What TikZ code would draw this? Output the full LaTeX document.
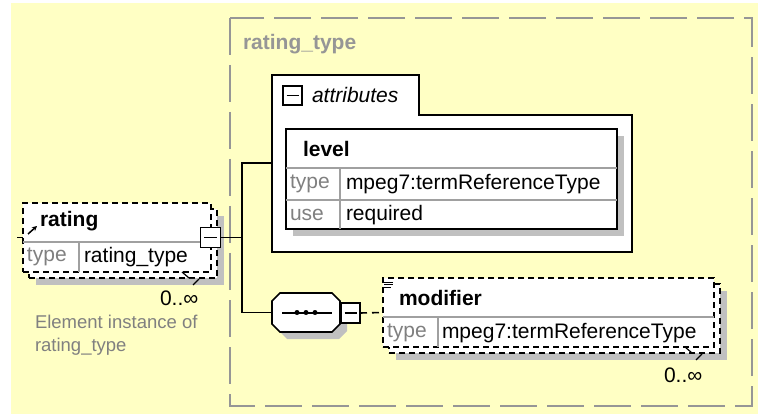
\documentclass[tikz,border=0pt]{standalone}
\usepackage{fontspec}
\setmainfont{Liberation Sans}
\usetikzlibrary{positioning,shadows,arrows.meta}

\definecolor{bgyellow}{RGB}{255,255,196}
\definecolor{framegray}{RGB}{150,150,150}
\definecolor{shadegray}{RGB}{192,192,192}
\definecolor{textgray}{RGB}{128,128,128}
\definecolor{rulegray}{RGB}{160,160,160}

\begin{document}
\begin{tikzpicture}[x=1pt, y=-1pt,
  every node/.style={inner sep=0pt, outer sep=0pt},
  txt/.style={anchor=west, font=\fontsize{21}{25}\selectfont},
  boldtxt/.style={txt, font=\fontsize{21}{25}\selectfont\bfseries},
  graytxt/.style={txt, text=textgray},
  grayshadow/.style={drop shadow={shadow xshift=7pt, shadow yshift=-7pt, fill=shadegray, draw=none, opacity=1}},
  elem/.style={draw=black, line width=1.6pt, dash pattern=on 6pt off 4pt, fill=white, minimum width=188pt, minimum height=69pt},
  minusbox/.style={draw=black, line width=1.6pt, fill=white, minimum width=20pt, minimum height=20pt,
    path picture={\draw[line width=1.6pt] ([xshift=3.5pt]path picture bounding box.west) -- ([xshift=-3.5pt]path picture bounding box.east);}},
  rule/.style={rulegray, line width=1.2pt},
  conn/.style={line width=1.6pt}]

  % background and type frame
  \fill[white] (0,0) rectangle (758,414);
  \fill[bgyellow] (11,3) rectangle (758,414);
  \draw[framegray, line width=2pt, dash pattern=on 37pt off 10pt] (230,18) rectangle (752,406);
  \node[boldtxt, text=framegray] (typeName) at (243,44) {rating\_type};

  % rating element
  \node[elem, grayshadow] (ratingBack) at (123,243.5) {};
  \node[elem] (rating) at (117,237.5) {};
  \draw[rule] (23,242) -- (211,242);
  \draw[rule] (79,242) -- (79,272);
  \node[boldtxt] (ratingName) at (40,221) {rating};
  \node[graytxt] (ratingTypeKey) at (27,257) {type};
  \node[txt] (ratingTypeVal) at (84,257) {rating\_type};
  \draw[-{Stealth[length=5pt,width=5pt]}, line width=1.5pt] (28,234) -- (37,226);
  \draw[line width=1.2pt] (182,272) -- (189,278);
  \fill[shadegray] (188,279) -- (199,279) -- (193,285) -- cycle;
  \draw[line width=1.2pt] (193,285) -- (199,279);
  \node[txt] (ratingOcc) at (160,298) {0..∞};
  \node[graytxt, font=\fontsize{18.5}{23}\selectfont, align=left] (ratingNote) at (35,335.5) {Element instance of\\rating\_type};
  \node[minusbox] (ratingMinus) at (210.5,237.5) {};
  \coordinate (ratingStub) at (17,237.5);
  \draw[conn] (ratingStub) -- (rating.west);

  % attributes group
  \draw[line width=1.6pt, fill=white] (272,75) -| (419,115) -| (632,252) -- (272,252) -- cycle;
  \node[minusbox, minimum width=19pt, minimum height=19pt] (attrsMinus) at (292.5,95.5) {};
  \node[txt, font=\fontsize{21}{25}\selectfont\itshape] (attrsLabel) at (312,95) {attributes};
  \coordinate (attrs) at (272,163);

  % level attribute
  \node[draw=black, line width=1.6pt, fill=white, grayshadow, minimum width=331pt, minimum height=100pt] (level) at (451.5,179) {};
  \draw[rule] (286,168) -- (617,168);
  \draw[rule] (286,200) -- (617,200);
  \draw[rule] (340,168) -- (340,229);
  \node[boldtxt] (levelName) at (303,149) {level};
  \node[graytxt] (levelTypeKey) at (290,184) {type};
  \node[txt] (levelTypeVal) at (346,184) {mpeg7:termReferenceType};
  \node[graytxt] (levelUseKey) at (290,215) {use};
  \node[txt] (levelUseVal) at (346,215) {required};

  % sequence
  \node[minimum width=68pt, minimum height=39pt] (seq) at (306,312.5) {};
  \fill[shadegray, shift={(7,7)}] (280,293) -- (332,293) -- (340,301) -- (340,324) -- (332,332)
    -- (280,332) -- (272,324) -- (272,301) -- cycle;
  \draw[line width=1.6pt, fill=white] (280,293) -- (332,293) -- (340,301) -- (340,324) -- (332,332)
    -- (280,332) -- (272,324) -- (272,301) -- cycle;
  \draw[line width=2pt] ([xshift=10pt]seq.west) -- ([xshift=-8pt]seq.east);
  \foreach \dx in {-9,0,9}
    \fill ([xshift=\dx pt]seq.center) circle (2.5pt);
  \node[minusbox, minimum width=19pt] (seqMinus) at (350.5,313) {};

  % modifier element
  \node[elem, minimum width=331pt, grayshadow] (modifierBack) at (554.5,318.5) {};
  \node[elem, minimum width=331pt] (modifier) at (548.5,312.5) {};
  \draw[rule] (383,317) -- (714,317);
  \draw[rule] (438,317) -- (438,347);
  \foreach \yy/\len in {282/9, 284.5/9, 287/7}
    \draw[line width=0.9pt] (384,\yy) -- ++(\len,0);
  \node[boldtxt] (modifierName) at (399,298) {modifier};
  \node[graytxt] (modifierTypeKey) at (387,333) {type};
  \node[txt] (modifierTypeVal) at (442,333) {mpeg7:termReferenceType};
  \draw[line width=1.2pt] (685,347) -- (692,353);
  \fill[shadegray] (691,354) -- (702,354) -- (696,360) -- cycle;
  \draw[line width=1.2pt] (696,360) -- (702,354);
  \node[txt] (modifierOcc) at (664,375) {0..∞};

  % connectors
  \coordinate (split) at (242,237.5);
  \draw[conn] (ratingMinus.east) -- (split);
  \draw[conn] (attrs) -| (split) |- (seq.west);
  \draw[conn, dash pattern=on 7pt off 5pt] (seqMinus.east) -- (modifier.west);
\end{tikzpicture}
\end{document}
